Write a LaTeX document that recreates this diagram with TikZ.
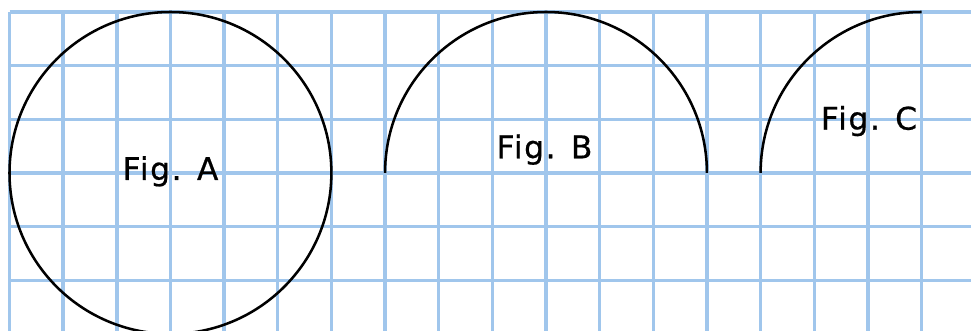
\documentclass[tikz,border=0pt]{standalone}
\usepackage{fontspec}
\newfontfamily\figfont[LetterSpace=5,FakeBold=0.6]{DejaVu Sans}
\definecolor{gridblue}{RGB}{160,198,236}
\begin{document}
\begin{tikzpicture}[x=0.75pt,y=-0.75pt,
  gridline/.style={draw=gridblue,line width=2.6pt},
  figline/.style={draw=black,line width=1.9pt},
  figlabel/.style={anchor=base,inner sep=0pt,font=\figfont\fontsize{23.5}{28}\selectfont}]
\useasboundingbox (0,0) rectangle (971,331);
\fill[white] (0,0) rectangle (971,331);
\begin{scope}
\clip (0,0) rectangle (971,331);
\foreach \k in {0,...,17}
  \draw[gridline] ({9.5+53.65*\k},12) -- ({9.5+53.65*\k},335);
\foreach \j in {0,...,5}
  \draw[gridline] (9.5,{12+53.65*\j}) -- (975,{12+53.65*\j});
\end{scope}
% Fig. A: full circle
\coordinate (cA) at (170.45,172.95);
\draw[figline] (cA) circle[radius=120.71pt];
% Fig. B: semicircle
\coordinate (sB) at (385.05,172.95);
\draw[figline] (sB) arc[start angle=180,end angle=0,radius=120.71pt];
% Fig. C: quarter circle
\coordinate (sC) at (760.6,172.95);
\draw[figline] (sC) arc[start angle=180,end angle=90,radius=120.71pt];
\node[figlabel] (labA) at (170.5,180) {Fig. A};
\node[figlabel] (labB) at (544.5,158.3) {Fig. B};
\node[figlabel] (labC) at (869,129.7) {Fig. C};
\end{tikzpicture}
\end{document}
